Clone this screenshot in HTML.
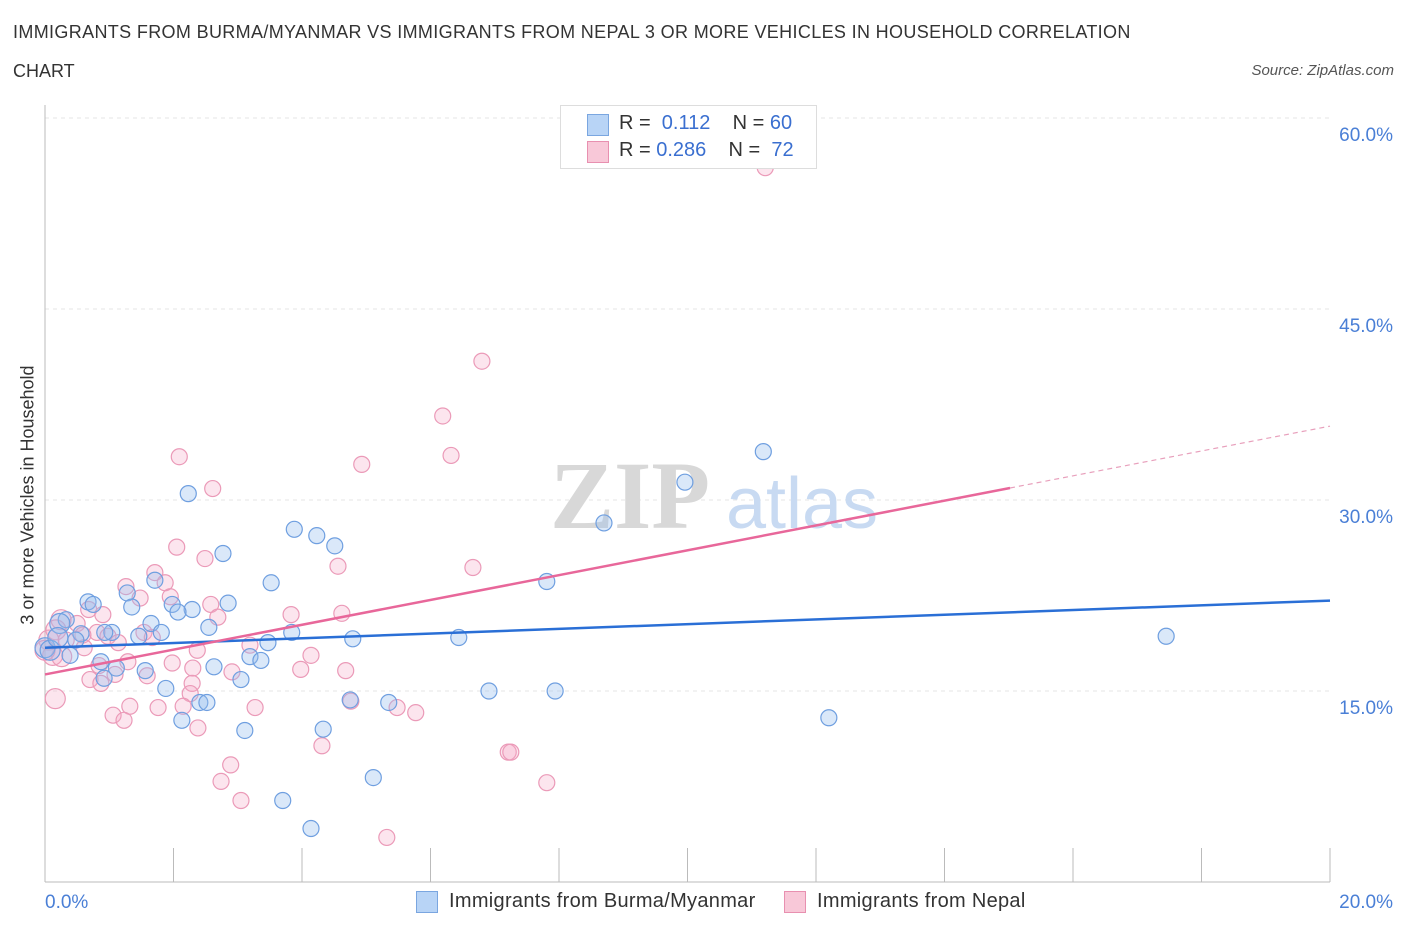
<!DOCTYPE html>
<html><head><meta charset="utf-8">
<style>
body{margin:0;background:#fff;font-family:"Liberation Sans",sans-serif;}
#wrap{position:relative;width:1406px;height:930px;overflow:hidden;}
.t{position:absolute;white-space:nowrap;}
</style></head><body>
<div id="wrap">
<div class="t" style="left:13px;top:22px;font-size:18px;letter-spacing:0.35px;color:#333;">IMMIGRANTS FROM BURMA/MYANMAR VS IMMIGRANTS FROM NEPAL 3 OR MORE VEHICLES IN HOUSEHOLD CORRELATION</div>
<div class="t" style="left:13px;top:61px;font-size:18px;color:#333;">CHART</div>
<div class="t" style="right:12px;top:62px;font-size:15px;color:#555;font-style:italic;">Source: ZipAtlas.com</div>
<div class="t" style="left:14px;top:495px;font-size:18px;color:#333;transform:translate(-50%,-50%) rotate(-90deg);transform-origin:center;margin-left:14px;">3 or more Vehicles in Household</div>
<svg id="svg" width="1406" height="930" style="position:absolute;left:0;top:0"></svg>
<div class="t" style="left:560px;top:105px;width:255px;height:62px;border:1px solid #ddd;background:#fff;font-size:20px;">
 <div class="t" style="left:26px;top:8px;width:20px;height:20px;background:#b8d4f6;border:1px solid #7aa6e0;"></div>
 <div class="t" style="left:58px;top:6px;color:#333;">R = &nbsp;<span style="color:#3a6fd0">0.112</span>&nbsp;&nbsp;&nbsp; N = <span style="color:#3a6fd0">60</span></div>
 <div class="t" style="left:26px;top:35px;width:20px;height:20px;background:#f8c8d8;border:1px solid #e890b0;"></div>
 <div class="t" style="left:58px;top:33px;color:#333;">R = <span style="color:#3a6fd0">0.286</span>&nbsp;&nbsp;&nbsp; N = &nbsp;<span style="color:#3a6fd0">72</span></div>
</div>
<div class="t" style="left:416px;top:891px;width:20px;height:20px;background:#b8d4f6;border:1px solid #7aa6e0;"></div>
<div class="t" style="left:449px;top:890px;font-size:20px;letter-spacing:0.3px;color:#333;">Immigrants from Burma/Myanmar</div>
<div class="t" style="left:784px;top:891px;width:20px;height:20px;background:#f8c8d8;border:1px solid #e890b0;"></div>
<div class="t" style="left:817px;top:890px;font-size:20px;letter-spacing:0.3px;color:#333;">Immigrants from Nepal</div>
</div>
<script>
const yTicks=[15,30,45,60];
const yTickLabels=["15.0%","30.0%","45.0%","60.0%"];
const xTickLabels=["0.0%","20.0%"];
const blueX=[2.23,9.96,11.18,8.70,3.88,4.23,4.51,2.77,1.71,3.52,7.81,1.28,0.67,0.75,1.35,2.85,1.98,2.29,2.07,0.33,0.23,2.55,1.65,1.04,0.56,0.93,1.46,1.81,3.84,4.79,6.44,17.45,3.47,0,0.39,3.19,3.36,0.87,1.56,2.63,1.11,3.05,0.92,1.88,6.91,7.94,2.41,2.52,4.75,5.35,2.13,12.20,3.11,4.33,5.11,3.70,4.14,0.08,0.20,0.48];
const blueY=[30.5,31.4,33.8,28.2,27.7,27.2,26.4,25.8,23.7,23.5,23.6,22.7,22.0,21.8,21.6,21.9,21.8,21.4,21.2,20.6,20.3,20.0,20.3,19.6,19.5,19.6,19.3,19.6,19.6,19.1,19.2,19.3,18.8,18.4,17.8,17.7,17.4,17.3,16.6,16.9,16.8,15.9,16.0,15.2,15.0,15.0,14.1,14.1,14.3,14.1,12.7,12.9,11.9,12.0,8.2,6.4,4.2,18.2,19.2,19.0];
const pinkX=[11.21,6.80,6.19,6.32,2.09,4.93,2.61,2.05,2.49,4.56,6.66,1.71,1.87,1.26,1.48,1.95,2.58,3.83,4.62,2.69,0.68,0.90,0.25,0.50,0.17,0.81,0.98,1.54,0.06,1.14,1.67,0.33,0.59,3.19,4.14,2.37,1.98,2.30,3.98,4.68,1.29,0.84,1.09,0.12,0.70,0.87,2.29,1.59,2.26,2.91,0.16,1.32,1.76,2.15,3.27,4.76,5.48,5.77,1.06,1.23,2.38,4.31,7.21,7.25,2.89,2.74,3.05,7.81,5.32,0.61,0.26,0];
const pinkY=[56.1,40.9,36.6,33.5,33.4,32.8,30.9,26.3,25.4,24.8,24.7,24.3,23.5,23.2,22.3,22.4,21.8,21.0,21.1,20.8,21.4,21.0,20.6,20.3,19.8,19.6,19.3,19.6,19.0,18.8,19.2,19.0,19.4,18.6,17.8,18.2,17.2,16.8,16.7,16.6,17.3,17.0,16.3,17.8,15.9,15.6,15.6,16.2,14.8,16.5,14.4,13.8,13.7,13.8,13.7,14.2,13.7,13.3,13.1,12.7,12.1,10.7,10.2,10.2,9.2,7.9,6.4,7.8,3.5,18.4,17.7,18.2];
const blueTrend=[18.4,22.1];
const pinkTrend=[16.3,35.8];
const pinkSolidEnd=15.02;

const NS="http://www.w3.org/2000/svg";
const svg=document.getElementById('svg');
const X=v=>45+v*64.25;
const Y=v=>882-v*12.733;
function mk(tag,attrs){const e=document.createElementNS(NS,tag);for(const k in attrs)e.setAttribute(k,attrs[k]);svg.appendChild(e);return e;}
yTicks.forEach((t,i)=>{
 const g=mk('line',{x1:45,x2:1330,y1:Y(t),y2:Y(t),stroke:'#e6e6e6','stroke-dasharray':'4,4'});
 
 
 const tx=mk('text',{x:1393,y:Y(t)+23,'text-anchor':'end','font-size':19,fill:'#4a7fd6','font-family':'Liberation Sans, sans-serif'});
 tx.textContent=yTickLabels[i];
 
 
});
const ax=mk('line',{x1:45,x2:1330,y1:882,y2:882,stroke:'#bbb'});


const ay=mk('line',{x1:45,x2:45,y1:105,y2:882,stroke:'#bbb'});


for(let i=0;i<=10;i++){
 const tk=mk('line',{x1:X(i*2),x2:X(i*2),y1:848,y2:882,stroke:'#bbb'});
 
 
}
[[0,xTickLabels[0],'start',45],[20,xTickLabels[1],'end',1393]].forEach(a=>{
 const tx=mk('text',{x:a[3],y:908,'text-anchor':a[2],'font-size':19,fill:'#4a7fd6','font-family':'Liberation Sans, sans-serif'});
 tx.textContent=a[1];
 
 
});
const w1=mk('text',{x:630,y:528,'text-anchor':'middle','font-size':96,fill:'#d8d8d8','font-family':'Liberation Serif, serif','font-weight':'bold'});
w1.textContent='ZIP';


const w2=mk('text',{x:802,y:528,'text-anchor':'middle','font-size':72,fill:'#c8daf2','font-family':'Liberation Sans, sans-serif'});
w2.textContent='atlas';


function pts(xs,ys,fill,stroke,name){
 xs.forEach((x,i)=>{
  const big=x<0.3;
  const c=mk('circle',{cx:X(x),cy:Y(ys[i]),r:big?10:8,fill:fill,stroke:stroke,'stroke-width':1.2});
  
  
 });
}
pts(pinkX,pinkY,'rgba(244,170,198,0.3)','#eb9ab8','point-nepal');
pts(blueX,blueY,'rgba(150,188,238,0.35)','#6f9fe0','point-burma');
const bl=mk('line',{x1:X(0),y1:Y(blueTrend[0]),x2:X(20),y2:Y(blueTrend[1]),stroke:'#2a6fd6','stroke-width':2.5});


const pAt=x=>pinkTrend[0]+(pinkTrend[1]-pinkTrend[0])*x/20;
const pl=mk('line',{x1:X(0),y1:Y(pinkTrend[0]),x2:X(pinkSolidEnd),y2:Y(pAt(pinkSolidEnd)),stroke:'#e8679a','stroke-width':2.5});


const pd=mk('line',{x1:X(pinkSolidEnd),y1:Y(pAt(pinkSolidEnd)),x2:X(20),y2:Y(pinkTrend[1]),stroke:'#e8a0bc','stroke-width':1.2,'stroke-dasharray':'5,4'});


</script>
</body></html>
